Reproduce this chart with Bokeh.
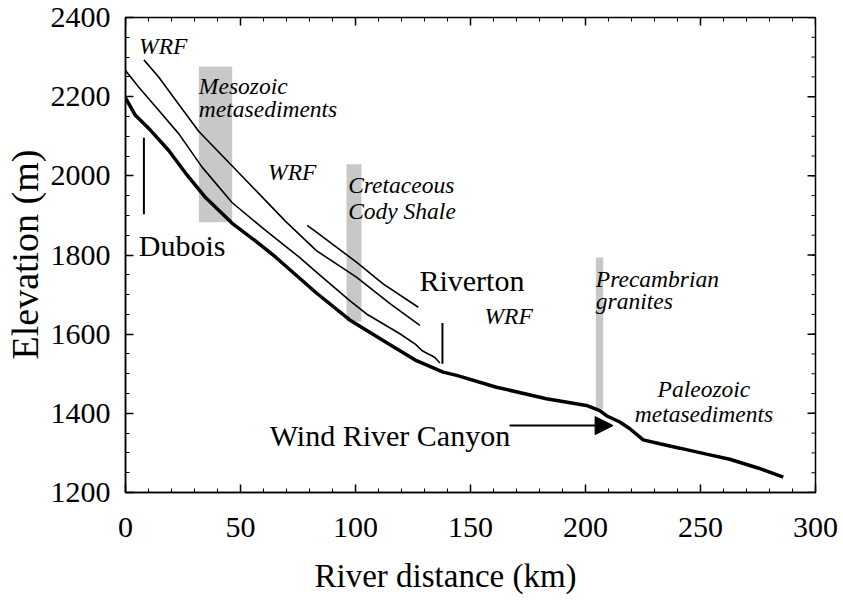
import math
from bokeh.plotting import figure
from bokeh.models import FixedTicker, Title, Arrow, NormalHead, Range1d
from bokeh.core.properties import value
from bokeh.embed import file_html
from bokeh.resources import INLINE

# ---- data (river distance km, elevation m) ----
river_km = [0, 4.3, 10.9, 18.8, 26.1, 34.8, 46.4, 58, 65.2, 83, 97.5, 112, 126.5,
            138.1, 144, 161.3, 183, 200.4, 206.2, 209.1, 214.9, 219.3, 225.1, 232.3,
            241, 252.6, 262.7, 275, 286]
river_elev = [2197, 2153, 2115, 2064, 2007, 1945, 1880, 1829, 1795, 1704, 1636, 1584, 1533,
              1504, 1496, 1466, 1437, 1420, 1407, 1394, 1378, 1361, 1333, 1323,
              1312, 1297, 1284, 1262, 1239]

terrace_low_km = [0, 5.8, 14.5, 23.2, 33.3, 46.4, 60.9, 75.4, 83, 97.5, 104.8, 119.3,
                  126, 129, 131, 133, 134.5, 136.7]
terrace_low_elev = [2266, 2224, 2165, 2106, 2022, 1932, 1862, 1795, 1757, 1685, 1651, 1601,
                    1575, 1558, 1552, 1546, 1541, 1527]

terrace_mid_km = [8, 14.5, 23.2, 31.9, 46.4, 58, 69.6, 83, 100.4, 115, 128]
terrace_mid_elev = [2293, 2249, 2180, 2112, 2025, 1955, 1885, 1811, 1744, 1677, 1622]

terrace_high_km = [79, 83, 100.4, 112, 127.3]
terrace_high_elev = [1875, 1858, 1782, 1727, 1668]

# lithology bands (km range, elevation range)
band_km_start = [31.9, 96.1, 204.5]
band_km_end = [46.4, 102.6, 207.7]
band_elev_low = [1883, 1632, 1411]
band_elev_high = [2276, 2029, 1794]

# town markers
marker_km = [8, 137.8]
marker_elev_low = [1903, 1525]
marker_elev_high = [2096, 1628]

X_MIN, X_MAX = 0, 300
Y_MIN, Y_MAX = 1200, 2400
x_ticks = [0, 50, 100, 150, 200, 250, 300]
x_minor = list(range(0, 301, 10))
y_ticks = [1200, 1400, 1600, 1800, 2000, 2200, 2400]
y_minor = list(range(1200, 2401, 50))

italic_text = ["WRF", "Mesozoic", "metasediments", "WRF", "Cretaceous", "Cody Shale",
               "WRF", "Precambrian", "granites"]
italic_x = [5.9, 31.9, 31.9, 62.0, 96.8, 96.8, 156.1, 204.5, 204.5]
italic_y = [2329, 2228, 2170, 2009, 1976, 1912, 1647, 1740, 1685]

centered_text = ["Paleozoic", "metasediments"]
centered_x = [251.5, 251.5]
centered_y = [1462, 1399]

place_text = ["Dubois", "Riverton", "Wind River Canyon"]
place_x = [5.8, 127.8, 62.7]
place_y = [1824, 1736, 1344]

arrow_start = (167, 1369)
arrow_end = (212, 1369)

FONT = "Liberation Serif"

p = figure(frame_width=690, frame_height=475,
           x_range=Range1d(X_MIN, X_MAX), y_range=Range1d(Y_MIN, Y_MAX),
           output_backend="svg", toolbar_location=None,
           min_border_left=121, min_border_right=24, min_border_top=17, min_border_bottom=100)
p.grid.visible = False
p.background_fill_color = "white"
p.border_fill_color = "white"
p.outline_line_color = "black"
p.outline_line_width = 1.5


def style_axis(ax):
    ax.axis_line_width = 1.5
    ax.major_tick_in = 8
    ax.major_tick_out = 0
    ax.minor_tick_in = 4
    ax.minor_tick_out = 0
    ax.major_tick_line_width = 1.5
    ax.minor_tick_line_width = 1
    ax.major_label_text_font = FONT
    ax.major_label_text_color = "black"
    ax.major_label_text_font_size = "30px"


p.xaxis[0].ticker = FixedTicker(ticks=x_ticks, minor_ticks=x_minor)
p.yaxis[0].ticker = FixedTicker(ticks=y_ticks, minor_ticks=y_minor)
style_axis(p.xaxis[0])
style_axis(p.yaxis[0])
p.xaxis[0].major_label_standoff = 25
p.yaxis[0].major_label_standoff = 15

# mirrored inward ticks on top and right edges
p.ray(x=x_minor, y=[Y_MAX] * len(x_minor), length=4, length_units="screen",
      angle=-math.pi / 2, line_color="black", line_width=1)
p.ray(x=x_ticks, y=[Y_MAX] * len(x_ticks), length=8, length_units="screen",
      angle=-math.pi / 2, line_color="black", line_width=1.5)
p.ray(x=[X_MAX] * len(y_minor), y=y_minor, length=4, length_units="screen",
      angle=math.pi, line_color="black", line_width=1)
p.ray(x=[X_MAX] * len(y_ticks), y=y_ticks, length=8, length_units="screen",
      angle=math.pi, line_color="black", line_width=1.5)

xtitle = Title(text="River distance (km)", align="left", offset=189,
               text_font=FONT, text_font_size="33px", text_font_style="normal",
               text_color="black", standoff=32)
p.add_layout(xtitle, "below")
ytitle = Title(text="Elevation (m)", align="left", offset=133,
               text_font=FONT, text_font_size="38px", text_font_style="normal",
               text_color="black", standoff=3)
p.add_layout(ytitle, "left")

# bands
p.quad(left=band_km_start, right=band_km_end, bottom=band_elev_low, top=band_elev_high,
       fill_color="#c8c8c8", line_color=None)

# profiles
p.line(terrace_high_km, terrace_high_elev, line_color="black", line_width=1.6)
p.line(terrace_mid_km, terrace_mid_elev, line_color="black", line_width=1.6)
p.line(terrace_low_km, terrace_low_elev, line_color="black", line_width=1.6)
p.line(river_km, river_elev, line_color="black", line_width=3.5)

# markers
p.segment(x0=marker_km, y0=marker_elev_low, x1=marker_km, y1=marker_elev_high,
          line_color="black", line_width=2)

# labels
p.text(x=italic_x, y=italic_y, text=italic_text, text_font=value(FONT),
       text_font_size="23.5px", text_font_style="italic", text_align="left",
       text_baseline="alphabetic", text_color="black")
p.text(x=centered_x, y=centered_y, text=centered_text, text_font=value(FONT),
       text_font_size="23.5px", text_font_style="italic", text_align="center",
       text_baseline="alphabetic", text_color="black")
p.text(x=place_x, y=place_y, text=place_text, text_font=value(FONT),
       text_font_size="30px", text_align="left",
       text_baseline="alphabetic", text_color="black")

p.add_layout(Arrow(end=NormalHead(size=18, fill_color="black", line_color="black"),
                   x_start=arrow_start[0], y_start=arrow_start[1],
                   x_end=arrow_end[0], y_end=arrow_end[1],
                   line_color="black", line_width=2))

open("out.html", "w").write(file_html(p, INLINE))
